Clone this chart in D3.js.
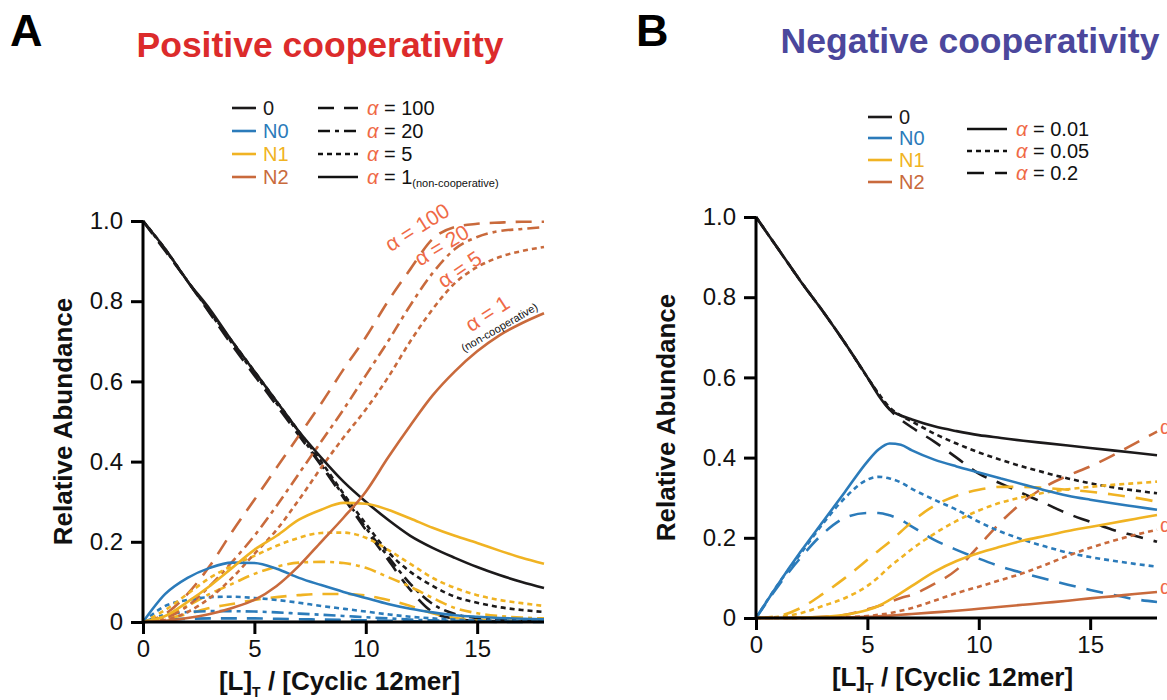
<!DOCTYPE html>
<html><head><meta charset="utf-8">
<script src="https://cdn.jsdelivr.net/npm/d3@7"></script>
<style>
body{margin:0;background:#fff}
svg{display:block}
text{font-family:"Liberation Sans",Arial,Helvetica,sans-serif}
</style>
</head><body>
<svg id="c" width="1167" height="700"></svg>
<script>
// ---------- DATA ----------
const xTicks = [0, 5, 10, 15];
const yTicks = [0, 0.2, 0.4, 0.6, 0.8, 1.0];
const yTickLabels = ["0", "0.2", "0.4", "0.6", "0.8", "1.0"];
const speciesNames = ["0", "N0", "N1", "N2"];

// Panel A: positive cooperativity, alpha = 100, 20, 5, 1
const xA = [0,1,2,3,4,5,6,7,8,9,10,11,12,13,14,15,16,17,18];
const alphaA = ["100", "20", "5", "1"];
const A_black_a1   = [1,0.93,0.85,0.78,0.70,0.625,0.55,0.475,0.41,0.35,0.30,0.255,0.215,0.185,0.16,0.137,0.117,0.10,0.085];
const A_black_a5   = [1,0.93,0.85,0.775,0.70,0.625,0.55,0.475,0.40,0.32,0.245,0.175,0.125,0.09,0.063,0.048,0.037,0.03,0.025];
const A_black_a20  = [1,0.928,0.85,0.772,0.695,0.62,0.545,0.47,0.392,0.315,0.235,0.163,0.095,0.045,0.02,0.01,0.006,0.004,0.003];
const A_black_a100 = [1,0.925,0.85,0.77,0.69,0.615,0.54,0.465,0.39,0.31,0.23,0.155,0.08,0.025,0.008,0.003,0.002,0.001,0.001];
const A_N0_a1   = [0,0.07,0.11,0.135,0.148,0.147,0.133,0.11,0.092,0.075,0.06,0.045,0.033,0.024,0.017,0.013,0.01,0.008,0.007];
const A_N0_a5   = [0,0.04,0.055,0.062,0.063,0.06,0.055,0.048,0.04,0.033,0.026,0.019,0.013,0.009,0.006,0.004,0.003,0.002,0.002];
const A_N0_a20  = [0,0.018,0.025,0.027,0.027,0.026,0.024,0.021,0.018,0.015,0.012,0.009,0.006,0.004,0.003,0.002,0.001,0.001,0.001];
const A_N0_a100 = [0,0.006,0.008,0.009,0.009,0.009,0.008,0.007,0.006,0.005,0.004,0.003,0.002,0.001,0.001,0.001,0,0,0];
const A_N1_a1   = [0,0.015,0.05,0.09,0.135,0.18,0.215,0.255,0.28,0.297,0.295,0.28,0.258,0.235,0.215,0.197,0.178,0.16,0.145];
const A_N1_a5   = [0,0.03,0.07,0.11,0.14,0.165,0.19,0.21,0.222,0.223,0.21,0.18,0.145,0.11,0.085,0.067,0.055,0.047,0.04];
const A_N1_a20  = [0,0.015,0.04,0.07,0.095,0.12,0.138,0.148,0.15,0.147,0.135,0.112,0.088,0.06,0.035,0.022,0.015,0.011,0.009];
const A_N1_a100 = [0,0.008,0.02,0.035,0.045,0.055,0.062,0.067,0.07,0.07,0.066,0.055,0.04,0.022,0.01,0.006,0.004,0.003,0.002];
const A_N2_a1   = [0,0.003,0.01,0.02,0.035,0.055,0.09,0.14,0.20,0.26,0.325,0.41,0.49,0.565,0.625,0.675,0.715,0.745,0.77];
const A_N2_a5   = [0,0.005,0.025,0.06,0.11,0.17,0.23,0.305,0.385,0.46,0.53,0.61,0.70,0.78,0.845,0.885,0.91,0.925,0.935];
const A_N2_a20  = [0,0.01,0.04,0.09,0.15,0.215,0.29,0.37,0.45,0.53,0.615,0.70,0.79,0.87,0.93,0.96,0.975,0.98,0.985];
const A_N2_a100 = [0,0.02,0.07,0.14,0.225,0.305,0.385,0.465,0.545,0.63,0.71,0.80,0.88,0.955,0.985,0.993,0.996,0.998,0.998];

// Panel B: negative cooperativity, alpha = 0.01, 0.05, 0.2
const xB = [0,1,2,3,4,5,5.5,6,6.5,7,8,9,10,11,12,13,14,15,16,17,18];
const alphaB = ["0.01", "0.05", "0.2"];
const B_black_a001 = [1,0.92,0.84,0.765,0.685,0.60,0.555,0.52,0.505,0.495,0.478,0.466,0.456,0.449,0.442,0.436,0.43,0.424,0.418,0.412,0.406];
const B_black_a005 = [1,0.92,0.84,0.765,0.685,0.60,0.56,0.525,0.505,0.49,0.46,0.435,0.413,0.394,0.377,0.362,0.348,0.336,0.326,0.318,0.311];
const B_black_a02  = [1,0.92,0.84,0.765,0.685,0.60,0.558,0.52,0.495,0.475,0.44,0.40,0.36,0.335,0.31,0.285,0.26,0.24,0.22,0.205,0.19];
const B_N0_a001 = [0,0.085,0.165,0.24,0.315,0.39,0.42,0.435,0.432,0.418,0.395,0.378,0.363,0.348,0.333,0.318,0.305,0.295,0.286,0.278,0.27];
const B_N0_a005 = [0,0.085,0.16,0.235,0.30,0.345,0.352,0.348,0.338,0.322,0.295,0.27,0.24,0.215,0.195,0.178,0.163,0.152,0.143,0.135,0.128];
const B_N0_a02  = [0,0.08,0.15,0.21,0.25,0.262,0.262,0.256,0.245,0.228,0.195,0.17,0.148,0.128,0.112,0.097,0.083,0.07,0.058,0.047,0.04];
const B_N1_a001 = [0,0,0.001,0.003,0.008,0.02,0.03,0.045,0.062,0.08,0.115,0.142,0.162,0.178,0.193,0.205,0.217,0.227,0.237,0.247,0.257];
const B_N1_a005 = [0,0.003,0.012,0.03,0.05,0.08,0.102,0.128,0.15,0.172,0.21,0.242,0.268,0.288,0.302,0.313,0.321,0.327,0.332,0.336,0.34];
const B_N1_a02  = [0,0.005,0.025,0.06,0.1,0.145,0.168,0.19,0.215,0.24,0.28,0.305,0.32,0.327,0.327,0.324,0.32,0.315,0.308,0.30,0.29];
const B_N2_a001 = [0,0,0,0,0.001,0.003,0.004,0.006,0.008,0.01,0.014,0.018,0.023,0.028,0.033,0.038,0.043,0.049,0.054,0.06,0.065];
const B_N2_a005 = [0,0,0,0.001,0.002,0.005,0.008,0.012,0.018,0.025,0.043,0.062,0.078,0.095,0.112,0.133,0.155,0.175,0.192,0.207,0.22];
const B_N2_a02  = [0,0,0.001,0.003,0.008,0.022,0.03,0.04,0.05,0.058,0.085,0.12,0.18,0.24,0.29,0.328,0.355,0.378,0.405,0.435,0.465];

// ---------- STYLE ----------
const colors = {"0":"#1c1a1b","N0":"#2b7bba","N1":"#f0b323","N2":"#c96a3c"};
const alphaColor = "#ef6a47";
const dashA = {"100":"16,10","20":"12,5,4,5","5":"5,4","1":null};
const dashB = {"0.01":null,"0.05":"5,4","0.2":"17,11"};
const FONT = '"Liberation Sans",Arial,sans-serif';

const dataMap = {A_black_a1,A_black_a5,A_black_a20,A_black_a100,A_N0_a1,A_N0_a5,A_N0_a20,A_N0_a100,
  A_N1_a1,A_N1_a5,A_N1_a20,A_N1_a100,A_N2_a1,A_N2_a5,A_N2_a20,A_N2_a100,
  B_black_a001,B_black_a005,B_black_a02,B_N0_a001,B_N0_a005,B_N0_a02,B_N1_a001,B_N1_a005,B_N1_a02,
  B_N2_a001,B_N2_a005,B_N2_a02};

const svg = d3.select("#c");

function panel(opts){
  const g = svg.append("g");
  const x = d3.scaleLinear().domain([0,18]).range([opts.x0, opts.x1]);
  const y = d3.scaleLinear().domain([0,1]).range([opts.y0, opts.y1]);
  const line = d3.line().x(d=>x(d[0])).y(d=>y(d[1])).curve(d3.curveMonotoneX);
  opts.series.forEach(s=>{
    g.append("path")
      .attr("d", line(opts.xs.map((xv,i)=>[xv, s.values[i]])))
      .attr("fill","none")
      .attr("stroke", colors[s.species])
      .attr("stroke-width", 2.6)
      .attr("stroke-dasharray", s.dash)
      .attr("stroke-linejoin","round");
  });
  const xAxis = d3.axisBottom(x).tickValues(xTicks).tickSize(12).tickPadding(6).tickFormat(d3.format("d"));
  const yAxis = d3.axisLeft(y).tickValues(yTicks).tickSize(12).tickPadding(8).tickFormat((d,i)=>yTickLabels[i]);
  const gx = g.append("g").attr("transform",`translate(0,${opts.y0})`).call(xAxis);
  const gy = g.append("g").attr("transform",`translate(${opts.x0},0)`).call(yAxis);
  [gx,gy].forEach(a=>{
    a.select(".domain").attr("stroke","#000").attr("stroke-width",3);
    a.selectAll(".tick line").attr("stroke","#000").attr("stroke-width",3);
    a.selectAll(".tick text").attr("font-size",24).attr("font-family",FONT).attr("fill","#111");
  });
  gx.select(".domain").attr("d",`M${opts.x0},0H${opts.x1}`);
  gy.select(".domain").attr("d",`M0,${opts.y0}V${opts.y1}`);
  const xt = g.append("text").attr("x",(opts.x0+opts.x1)/2 - 4).attr("y",opts.y0+68)
    .attr("text-anchor","middle").attr("font-size",26).attr("font-weight","bold").attr("fill","#111");
  xt.append("tspan").text("[L]");
  xt.append("tspan").attr("font-size",14).attr("dy",7).text("T");
  xt.append("tspan").attr("dy",-7).text(" / [Cyclic 12mer]");
  g.append("text").attr("transform",`translate(${opts.ytx},${(opts.y0+opts.y1)/2}) rotate(-90)`)
    .attr("text-anchor","middle").attr("font-size",26).attr("font-weight","bold").attr("fill","#111")
    .text("Relative Abundance");
  return {x,y,g};
}

function seriesList(prefix, alphas, dash){
  const out=[];
  alphas.forEach(a=>{
    speciesNames.forEach(sp=>{
      const key = (sp==="0"?"black":sp);
      const suffix = "a"+a.replace(".","");
      out.push({species:sp, dash:dash[a], values: dataMap[prefix+"_"+key+"_"+suffix]});
    });
  });
  return out;
}

const serA = seriesList("A", ["100","20","5","1"], dashA);
const serB = seriesList("B", ["0.2","0.05","0.01"], dashB);

const pA = panel({x0:143, x1:544, y0:622, y1:221, xs:xA, series:serA, ytx:72});
const pB = panel({x0:756, x1:1157, y0:618, y1:217, xs:xB, series:serB, ytx:675});

// ---------- TITLES ----------
svg.append("text").attr("x",10).attr("y",46).attr("font-size",45).attr("font-weight","bold").text("A");
svg.append("text").attr("x",636).attr("y",46).attr("font-size",45).attr("font-weight","bold").text("B");
svg.append("text").attr("x",320).attr("y",57).attr("text-anchor","middle").attr("font-size",35.5)
  .attr("font-weight","bold").attr("fill","#dc2b2b").text("Positive cooperativity");
svg.append("text").attr("x",970).attr("y",53).attr("text-anchor","middle").attr("font-size",35.5)
  .attr("font-weight","bold").attr("fill","#4b479c").text("Negative cooperativity");

// ---------- LEGENDS ----------
function speciesLegend(x, ys){
  speciesNames.forEach((sp,i)=>{
    svg.append("line").attr("x1",x).attr("x2",x+24).attr("y1",ys[i]).attr("y2",ys[i])
      .attr("stroke",colors[sp]).attr("stroke-width",2.6);
    svg.append("text").attr("x",x+31).attr("y",ys[i]+7).attr("font-size",20)
      .attr("fill",colors[sp]).text(sp);
  });
}
function alphaLegend(x, ys, alphas, dash, extra){
  alphas.forEach((a,i)=>{
    svg.append("line").attr("x1",x).attr("x2",x+40).attr("y1",ys[i]).attr("y2",ys[i])
      .attr("stroke","#111").attr("stroke-width",2.6).attr("stroke-dasharray",dash[a]);
    const t = svg.append("text").attr("x",x+49).attr("y",ys[i]+7).attr("font-size",20).attr("fill","#111");
    t.append("tspan").attr("fill",alphaColor).attr("font-style","italic").text("α");
    t.append("tspan").text(" = "+a);
    if(extra && extra[a]) t.append("tspan").attr("font-size",11).attr("dy",3).text(extra[a]);
  });
}
speciesLegend(232, [108,131,154,177]);
alphaLegend(318, [108,131,154,177], ["100","20","5","1"], dashA, {"1":"(non-cooperative)"});
speciesLegend(868, [117,138,160,182]);
alphaLegend(967, [129,151,173], ["0.01","0.05","0.2"], dashB);

// ---------- CURVE LABELS (panel A) ----------
const curveLabels = [
  {text:"α = 100", at:[12.3, 0.985], rot:-32},
  {text:"α = 20",  at:[13.4, 0.94], rot:-31},
  {text:"α = 5",   at:[14.2, 0.88], rot:-34},
  {text:"α = 1",   at:[15.45, 0.77], rot:-33}
];
curveLabels.forEach(l=>{
  svg.append("text").attr("transform",`translate(${pA.x(l.at[0])},${pA.y(l.at[1])}) rotate(${l.rot})`)
    .attr("text-anchor","middle").attr("dominant-baseline","central").attr("font-size",21)
    .attr("fill",alphaColor).text(l.text);
});
svg.append("text").attr("transform",`translate(${pA.x(16.0)},${pA.y(0.735)}) rotate(-30)`)
  .attr("text-anchor","middle").attr("dominant-baseline","central").attr("font-size",11)
  .attr("fill","#111").text("(non-cooperative)");

// ---------- CURVE LABELS (panel B, cut at right edge as in the figure) ----------
const edgeLabels = [{text:"α = 0.2", v:0.465},{text:"α = 0.05", v:0.22},{text:"α = 0.01", v:0.065}];
edgeLabels.forEach(l=>{
  svg.append("text").attr("x",pB.x(18)+3).attr("y",pB.y(l.v)+2).attr("font-size",20)
    .attr("fill",alphaColor).text(l.text);
});
</script>
</body></html>
